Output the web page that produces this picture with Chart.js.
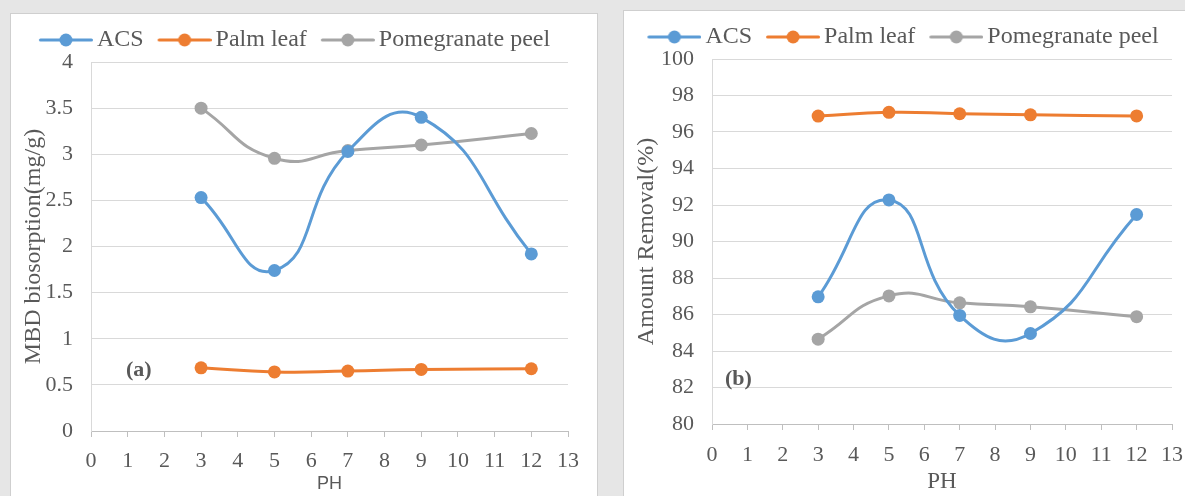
<!DOCTYPE html>
<html>
<head>
<meta charset="utf-8">
<script src="https://cdn.jsdelivr.net/npm/chart.js@4.4.0/dist/chart.umd.min.js"></script>
<style>
  body { margin: 0; width: 1185px; height: 496px; overflow: hidden; background: #e6e6e6; position: relative; }
  .panel { position: absolute; background: #fff; border: 1px solid #cfcfcf; }
  .box { position: absolute; left: 0; top: 0; }
  .tag { position: absolute; font: bold 22px "Liberation Serif", serif; line-height: 1; color: #595959; }
</style>
</head>
<body>
<div class="panel" style="left:10px;top:13px;width:586px;height:495px">
  <div class="box" style="width:586px;height:482px"><canvas id="chartA"></canvas></div>
  <div class="tag" style="left:115px;top:344px">(a)</div>
</div>
<div class="panel" style="left:623px;top:10px;width:570px;height:500px">
  <div class="box" style="width:561px;height:485px"><canvas id="chartB"></canvas></div>
  <div class="tag" style="left:101px;top:356px">(b)</div>
</div>
<script>
// pH values tested
const phValues = [3, 5, 7, 9, 12];
const seriesNames = ['ACS', 'Palm leaf', 'Pomegranate peel'];
const seriesColors = ['#5b9bd5', '#ed7d31', '#a5a5a5'];

// (a) MBD biosorption (mg/g)
const acsUptake = [2.53, 1.74, 3.03, 3.40, 1.92];
const palmUptake = [0.685, 0.64, 0.65, 0.668, 0.675];
const pomUptake = [3.50, 2.956, 3.04, 3.10, 3.225];

// (b) amount removal (%)
const acsRemoval = [86.97, 92.28, 85.95, 84.96, 91.48];
const palmRemoval = [96.87, 97.08, 97.0, 96.94, 96.88];
const pomRemoval = [84.65, 87.02, 86.64, 86.42, 85.88];

const textColor = '#595959';
const serif = '"Liberation Serif", "Times New Roman", serif';

function legendMark(color) {
  const c = document.createElement('canvas');
  c.width = 72; c.height = 16;
  const g = c.getContext('2d');
  g.strokeStyle = color; g.lineWidth = 3; g.lineCap = 'round';
  g.beginPath(); g.moveTo(19.5, 8); g.lineTo(70.5, 8); g.stroke();
  g.fillStyle = color;
  g.beginPath(); g.arc(45, 8, 6.5, 0, Math.PI * 2); g.fill();
  return c;
}
const marks = seriesColors.map(legendMark);

function makeChart(id, lists, yMin, yMax, yStep, yTitle, xTitleFont, box) {
  new Chart(document.getElementById(id), {
    type: 'line',
    data: {
      datasets: lists.map((vals, i) => ({
        label: seriesNames[i],
        data: phValues.map((x, j) => ({ x: x, y: vals[j] })),
        borderColor: seriesColors[i],
        backgroundColor: seriesColors[i],
        pointBackgroundColor: seriesColors[i],
        pointBorderWidth: 0,
        pointRadius: 6.5,
        borderWidth: 3,
        tension: 0.5
      }))
    },
    options: {
      responsive: true,
      maintainAspectRatio: false,
      animation: false,
      layout: { padding: { top: box.top, right: box.right, left: 0, bottom: 0 } },
      plugins: {
        tooltip: { enabled: false },
        legend: {
          position: 'top',
          labels: {
            usePointStyle: true,
            pointStyleWidth: 56,
            padding: 4,
            color: textColor,
            font: { family: serif, size: 24 },
            generateLabels: (chart) => Chart.defaults.plugins.legend.labels.generateLabels(chart)
              .map((item, i) => Object.assign(item, { pointStyle: marks[i] }))
          }
        }
      },
      scales: {
        x: {
          type: 'linear',
          min: 0, max: 13,
          afterFit: (s) => { s.height = box.xh; },
          ticks: { stepSize: 1, color: textColor, font: { family: serif, size: 22, lineHeight: box.tl }, padding: 0, maxRotation: 0 },
          grid: { drawOnChartArea: false, drawTicks: true, tickLength: 6, color: '#bfbfbf' },
          border: { color: '#bfbfbf' },
          title: { display: true, text: 'PH', color: textColor, font: xTitleFont, padding: { top: 0, bottom: box.tb } }
        },
        y: {
          min: yMin, max: yMax,
          afterFit: (s) => { s.width = box.yw; },
          ticks: { stepSize: yStep, color: textColor, font: { family: serif, size: 22 }, padding: 18, callback: (v) => String(v) },
          grid: { color: '#d9d9d9', drawTicks: false },
          border: { color: '#d9d9d9' },
          title: { display: true, text: yTitle, color: textColor, font: { family: serif, size: 24 }, padding: { top: 8, bottom: 0 } }
        }
      }
    }
  });
}

makeChart('chartA', [acsUptake, palmUptake, pomUptake], 0, 4, 0.5, 'MBD biosorption(mg/g)',
  { family: '"Liberation Sans", Arial, sans-serif', size: 18 },
  { top: 10, right: 29, xh: 65, yw: 80, tl: 2.18, tb: 1 });

makeChart('chartB', [acsRemoval, palmRemoval, pomRemoval], 80, 100, 2, 'Amount Removal(%)',
  { family: serif, size: 23 },
  { top: 10, right: 13, xh: 72, yw: 88, tl: 2.27, tb: 0 });
</script>
</body>
</html>
